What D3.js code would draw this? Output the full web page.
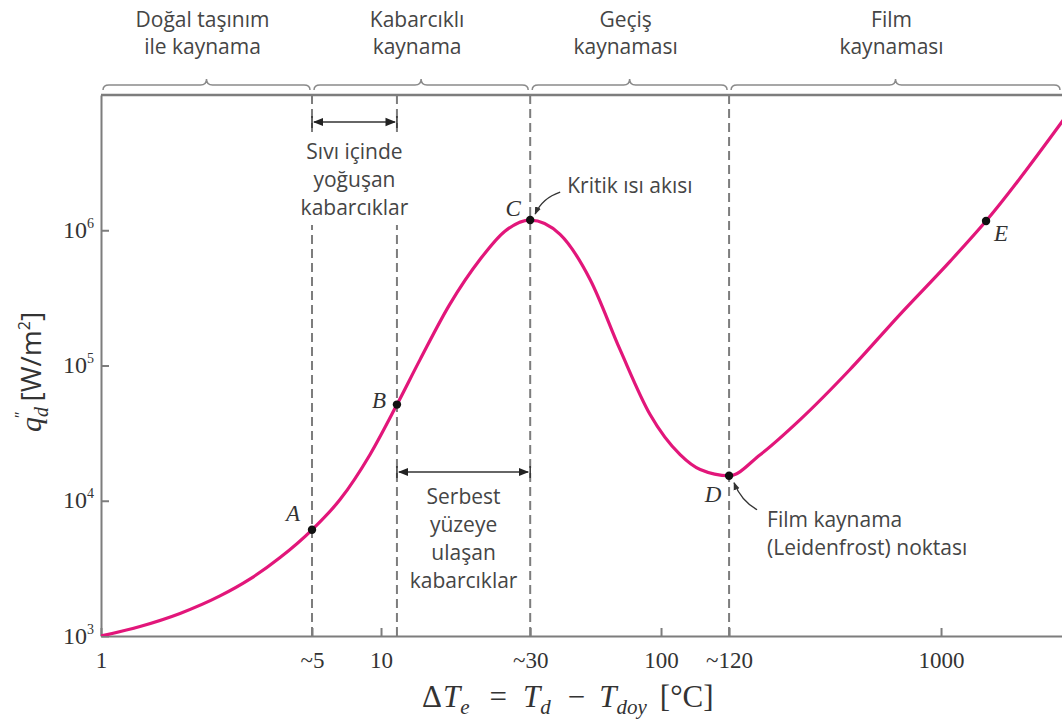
<!DOCTYPE html>
<html><head><meta charset="utf-8">
<script src="https://cdn.jsdelivr.net/npm/d3@7"></script>
<style>body{margin:0;background:#fff}svg{display:block}</style>
</head><body><svg id="c" width="1062" height="720"></svg>
<script>
// ---- data ----
const curveX = [1, 1.378, 1.915, 2.66, 3.41, 4.36, 5.67, 7.14, 9.13, 11.4, 13.8, 17.6, 22.6, 27.7, 34.1, 43.6, 55.8, 71.4, 91.4, 117, 138, 175, 226, 314, 473, 714, 1077, 1448, 2800];
const curveY = [1000, 1176, 1468, 1978, 2644, 3802, 6100, 10200, 21900, 51400, 111000, 283000, 610000, 984000, 1190000, 933000, 433000, 131000, 43400, 21900, 17000, 15300, 21900, 39800, 93400, 239000, 589000, 1170000, 7000000];
const pointLabels = ["A", "B", "C", "D", "E"];
const pointX = [5.67, 11.4, 34.1, 175, 1448];
const pointY = [6100, 51400, 1190000, 15300, 1170000];
const boundaryX = [5.67, 11.4, 34.1, 175];
const xTickValues = [1, 5.67, 10, 34.1, 100, 175, 1000];
const xTickLabels = ["1", "~5", "10", "~30", "100", "~120", "1000"];
const yTickValues = [1e3, 1e4, 1e5, 1e6];
const yTickExp = ["3", "4", "5", "6"];
const regionStart = [1, 5.67, 34.1, 175];
const regionEnd = [5.67, 34.1, 175, 2704];
const regionNames = [["Doğal taşınım", "ile kaynama"], ["Kabarcıklı", "kaynama"], ["Geçiş", "kaynaması"], ["Film", "kaynaması"]];

// ---- layout ----
const svg = d3.select("#c");
const L = 101, R = 1062, T = 95, B = 636;
const x = d3.scaleLog().domain([1, 2704]).range([L, R]);
const y = d3.scaleLog().domain([1e3, 1e7]).range([B, T]);
const grey = "#7d7d7d";
const sans = "'Open Sans', sans-serif";
const serif = "'Liberation Serif', 'Times New Roman', serif";
const txt = "#454545";
const fs = "21px";

svg.append("defs").html(`
 <clipPath id="clip"><rect x="${L}" y="${T}" width="${R-L}" height="${B-T}"/></clipPath>
 <marker id="ah" viewBox="0 0 10 10" refX="9" refY="5" markerWidth="7" markerHeight="7" orient="auto-start-reverse">
   <path d="M0,1 L10,5 L0,9 z" fill="#222"/></marker>
 <marker id="ah2" viewBox="0 0 10 10" refX="9" refY="5" markerWidth="6" markerHeight="6" orient="auto">
   <path d="M0,1 L10,5 L0,9 z" fill="#333"/></marker>`);

// top frame line
svg.append("line").attr("x1", L).attr("x2", R).attr("y1", T).attr("y2", T)
  .attr("stroke", grey).attr("stroke-width", 2.5);

// dashed boundaries
svg.selectAll("line.bd").data(boundaryX).join("line").attr("class", "bd")
  .attr("x1", d => x(d)).attr("x2", d => x(d)).attr("y1", T).attr("y2", B)
  .attr("stroke", grey).attr("stroke-width", 2).attr("stroke-dasharray", "9,5");

// axes
const yAxis = d3.axisLeft(y).tickValues(yTickValues).tickSize(-8).tickSizeOuter(0).tickFormat("");
const gy = svg.append("g").attr("transform", `translate(${L},0)`).call(yAxis);
gy.selectAll("path,line").attr("stroke", grey).attr("stroke-width", 2);
gy.selectAll(".tick").append("text").attr("x", -7).attr("y", 7).attr("text-anchor", "end")
  .attr("fill", "#333").style("font-family", serif).style("font-size", "24px")
  .each(function(d, i) {
    const t = d3.select(this);
    t.append("tspan").text("10");
    t.append("tspan").attr("dy", -10).style("font-size", "14px").text(yTickExp[i]);
  });

const xAxis = d3.axisBottom(x).tickValues(xTickValues).tickSize(-8).tickSizeOuter(0)
  .tickFormat((d, i) => xTickLabels[i]);
const gx = svg.append("g").attr("transform", `translate(0,${B})`).call(xAxis);
gx.selectAll("path,line").attr("stroke", grey).attr("stroke-width", 2);
gx.selectAll("text").attr("y", 16).attr("fill", "#333").style("font-family", serif).style("font-size", "23px");

// axis titles
const xt = svg.append("text").attr("x", 422).attr("y", 707).attr("text-anchor", "start")
  .attr("fill", "#333").style("font-family", serif).style("font-size", "31px");
const sub = "21px";
xt.append("tspan").text("Δ");
xt.append("tspan").attr("dx", 1).style("font-style", "italic").text("T");
xt.append("tspan").attr("dy", 7).style("font-size", sub).style("font-style", "italic").text("e");
xt.append("tspan").attr("dx", 20).attr("dy", -7).text("=");
xt.append("tspan").attr("dx", 16).style("font-style", "italic").text("T");
xt.append("tspan").attr("dy", 7).style("font-size", sub).style("font-style", "italic").text("d");
xt.append("tspan").attr("dx", 17).attr("dy", -7).text("−");
xt.append("tspan").attr("dx", 14).style("font-style", "italic").text("T");
xt.append("tspan").attr("dy", 7).style("font-size", sub).style("font-style", "italic").text("doy");
xt.append("tspan").attr("dx", 13).attr("dy", -7).text("[°C]");

const yt = svg.append("text").attr("transform", "translate(41,372) rotate(-90)").attr("text-anchor", "middle")
  .attr("fill", "#333").style("font-size", "28px");
yt.append("tspan").style("font-family", serif).style("font-style", "italic").style("font-size", "30px").text("q");
yt.append("tspan").attr("dy", 7).style("font-family", serif).style("font-style", "italic").style("font-size", "20px").text("d");
yt.append("tspan").attr("dx", -11).attr("dy", -22).style("font-family", serif).style("font-size", "16px").text("″");
yt.append("tspan").attr("dx", 10).attr("dy", 15).style("font-family", sans).text("[W/m");
yt.append("tspan").attr("dy", -11).style("font-family", sans).style("font-size", "16px").text("2");
yt.append("tspan").attr("dy", 11).style("font-family", sans).text("]");

// braces and region titles
const braceY = 85;
svg.selectAll("path.brace").data(regionStart).join("path").attr("class", "brace")
  .attr("d", (d, i) => {
    const a = x(d) + 2, b = x(regionEnd[i]) - 2, m = (a + b) / 2;
    return `M${a},${braceY + 5} Q${a},${braceY} ${a + 6},${braceY} L${m - 6},${braceY} Q${m},${braceY} ${m},${braceY - 6} Q${m},${braceY} ${m + 6},${braceY} L${b - 6},${braceY} Q${b},${braceY} ${b},${braceY + 5}`;
  })
  .attr("fill", "none").attr("stroke", "#8a8a8a").attr("stroke-width", 1.5);
regionNames.forEach((lines, i) => {
  const cx = (x(regionStart[i]) + x(regionEnd[i])) / 2 - 4;
  lines.forEach((s, j) => {
    svg.append("text").attr("x", cx).attr("y", 27 + j * 27).attr("text-anchor", "middle")
      .attr("fill", txt).style("font-family", sans).style("font-size", fs).text(s);
  });
});

// double arrows
function dbl(x0, x1, yy) {
  svg.append("line").attr("x1", x0 + 2).attr("x2", x1 - 2).attr("y1", yy).attr("y2", yy)
    .attr("stroke", "#333").attr("stroke-width", 1.5)
    .attr("marker-start", "url(#ah)").attr("marker-end", "url(#ah)");
  [x0, x1].forEach(v => svg.append("line").attr("x1", v).attr("x2", v).attr("y1", yy - 6).attr("y2", yy + 6)
    .attr("stroke", "#333").attr("stroke-width", 1.5));
}
dbl(x(boundaryX[0]), x(boundaryX[1]), 122);
dbl(x(boundaryX[1]), x(boundaryX[2]), 472);

function block(lines, cx, y0, dy, bg) {
  const g = svg.append("g");
  lines.forEach((s, j) => g.append("text").attr("x", cx).attr("y", y0 + j * dy).attr("text-anchor", "middle")
    .attr("fill", txt).style("font-family", sans).style("font-size", fs).text(s));
  if (bg) {
    const bb = g.node().getBBox();
    g.insert("rect", ":first-child").attr("x", bb.x - 2).attr("y", bb.y - 2)
      .attr("width", bb.width + 4).attr("height", bb.height + 6).attr("fill", "#fff");
  }
}
block(["Sıvı içinde", "yoğuşan", "kabarcıklar"], (x(boundaryX[0]) + x(boundaryX[1])) / 2, 159, 28, true);
block(["Serbest", "yüzeye", "ulaşan", "kabarcıklar"], (x(boundaryX[1]) + x(boundaryX[2])) / 2, 504, 28, false);

// curve
const line = d3.line().x((d, i) => x(curveX[i])).y((d, i) => y(curveY[i])).curve(d3.curveMonotoneX);
svg.append("path").attr("d", line(curveX)).attr("clip-path", "url(#clip)")
  .attr("fill", "none").attr("stroke", "#e2167a").attr("stroke-width", 3.2);

// points
svg.selectAll("circle.pt").data(pointX).join("circle").attr("class", "pt")
  .attr("cx", d => x(d)).attr("cy", (d, i) => y(pointY[i])).attr("r", 4.2).attr("fill", "#111");
const lblOff = [[-19, -9], [-18, 3], [-17, -4], [-16, 26], [15, 20]];
svg.selectAll("text.pl").data(pointLabels).join("text").attr("class", "pl")
  .attr("x", (d, i) => x(pointX[i]) + lblOff[i][0]).attr("y", (d, i) => y(pointY[i]) + lblOff[i][1])
  .attr("text-anchor", "middle").attr("fill", "#333")
  .style("font-family", serif).style("font-style", "italic").style("font-size", "23px").text(d => d);

// annotations
const cx0 = x(pointX[2]), cy0 = y(pointY[2]);
svg.append("path").attr("d", `M${cx0 + 30},${cy0 - 28} Q${cx0 + 12},${cy0 - 22} ${cx0 + 5},${cy0 - 6}`)
  .attr("fill", "none").attr("stroke", "#333").attr("stroke-width", 1.3).attr("marker-end", "url(#ah2)");
svg.append("text").attr("x", cx0 + 37).attr("y", cy0 - 27).attr("fill", txt)
  .style("font-family", sans).style("font-size", fs).text("Kritik ısı akısı");
const dx0 = x(pointX[3]), dy0 = y(pointY[3]);
svg.append("path").attr("d", `M${dx0 + 28},${dy0 + 34} Q${dx0 + 12},${dy0 + 25} ${dx0 + 5},${dy0 + 7}`)
  .attr("fill", "none").attr("stroke", "#333").attr("stroke-width", 1.3).attr("marker-end", "url(#ah2)");
svg.append("text").attr("x", dx0 + 38).attr("y", dy0 + 51).attr("fill", txt)
  .style("font-family", sans).style("font-size", fs).text("Film kaynama");
svg.append("text").attr("x", dx0 + 38).attr("y", dy0 + 79).attr("fill", txt)
  .style("font-family", sans).style("font-size", fs).text("(Leidenfrost) noktası");
</script></body></html>
